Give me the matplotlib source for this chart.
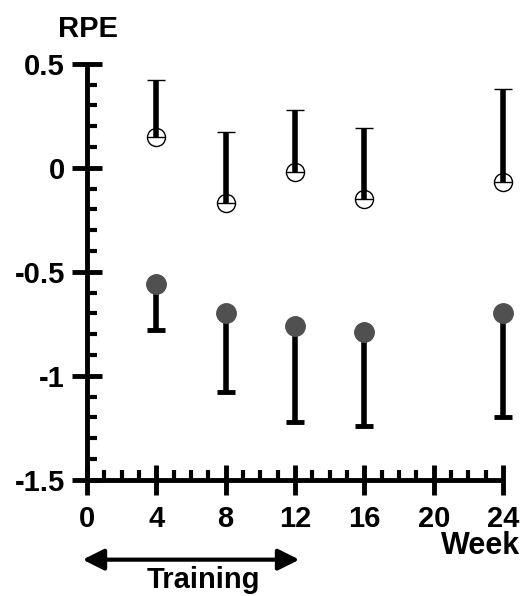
import numpy as np
import matplotlib.pyplot as plt
from matplotlib.ticker import MultipleLocator

plt.rcParams['font.family'] = ['Liberation Sans', 'DejaVu Sans']
plt.rcParams['font.weight'] = 'bold'

# data
weeks = [4, 8, 12, 16, 24]
open_mean = [0.15, -0.17, -0.02, -0.15, -0.07]
open_upper = [0.42, 0.17, 0.28, 0.19, 0.38]
filled_mean = [-0.56, -0.70, -0.76, -0.79, -0.70]
filled_lower = [-0.78, -1.08, -1.22, -1.24, -1.20]

y_ticks = [0.5, 0, -0.5, -1, -1.5]
y_labels = ['0.5', '0', '-0.5', '-1', '-1.5']
x_ticks = [0, 4, 8, 12, 16, 20, 24]

fig = plt.figure(figsize=(5.21, 5.96), dpi=100)
ax = fig.add_axes([0.167, 0.195, 0.7985, 0.698])

om = np.array(open_mean)
fm = np.array(filled_mean)
up = np.array(open_upper) - om
lo = fm - np.array(filled_lower)
zeros = np.zeros(len(weeks))

# open circles, bars going up
c1 = ax.errorbar(weeks, om, yerr=[zeros, up], fmt='o', ms=13, mfc='none',
                 mec='black', mew=1.0, ecolor='black', elinewidth=4,
                 capsize=6.5, capthick=3.5, zorder=3)
# filled circles, bars going down
c2 = ax.errorbar(weeks, fm, yerr=[lo, zeros], fmt='none', ecolor='black',
                 elinewidth=4, capsize=6.5, capthick=3.5, zorder=3)
pts = ax.plot(weeks, fm, 'o', ms=14, color='#505050', mec='#505050', zorder=4)
for c in (c1, c2):
    for a in c.get_children():
        a.set_clip_on(False)
pts[0].set_clip_on(False)

ax.set_xlim(0, 24)
ax.set_ylim(-1.5, 0.5)
ax.spines['top'].set_visible(False)
ax.spines['right'].set_visible(False)
for s in ['left', 'bottom']:
    ax.spines[s].set_linewidth(3.5)
    ax.spines[s].set_capstyle('butt')

ax.set_xticks(x_ticks)
ax.set_xticklabels([str(x) for x in x_ticks])
ax.set_yticks(y_ticks)
ax.set_yticklabels(y_labels)
ax.xaxis.set_minor_locator(MultipleLocator(1))
ax.yaxis.set_minor_locator(MultipleLocator(0.1))

ax.tick_params(axis='both', which='major', direction='inout', length=22,
               width=3.5, labelsize=21)
ax.tick_params(axis='x', which='major', pad=7)
ax.tick_params(axis='y', which='major', pad=5)
ax.tick_params(axis='both', which='minor', direction='in', length=7, width=3)

fig.text(0.169, 0.951, 'RPE', ha='center', va='center', fontsize=21,
         fontweight='bold')
fig.text(0.999, 0.084, 'Week', ha='right', va='center', fontsize=22,
         fontweight='bold')

# training period arrow below the axis
trans = ax.get_xaxis_transform()
ax.annotate('', xy=(-0.25, -0.192), xytext=(12.25, -0.192), xycoords=trans,
            textcoords=trans, annotation_clip=False,
            arrowprops=dict(arrowstyle='<|-|>', lw=3, color='black',
                            mutation_scale=32, shrinkA=0, shrinkB=0))
ax.text(6.7, -0.207, 'Training', transform=trans, ha='center', va='top',
        fontsize=21, fontweight='bold', clip_on=False)

fig.savefig('out.png', dpi=100)
